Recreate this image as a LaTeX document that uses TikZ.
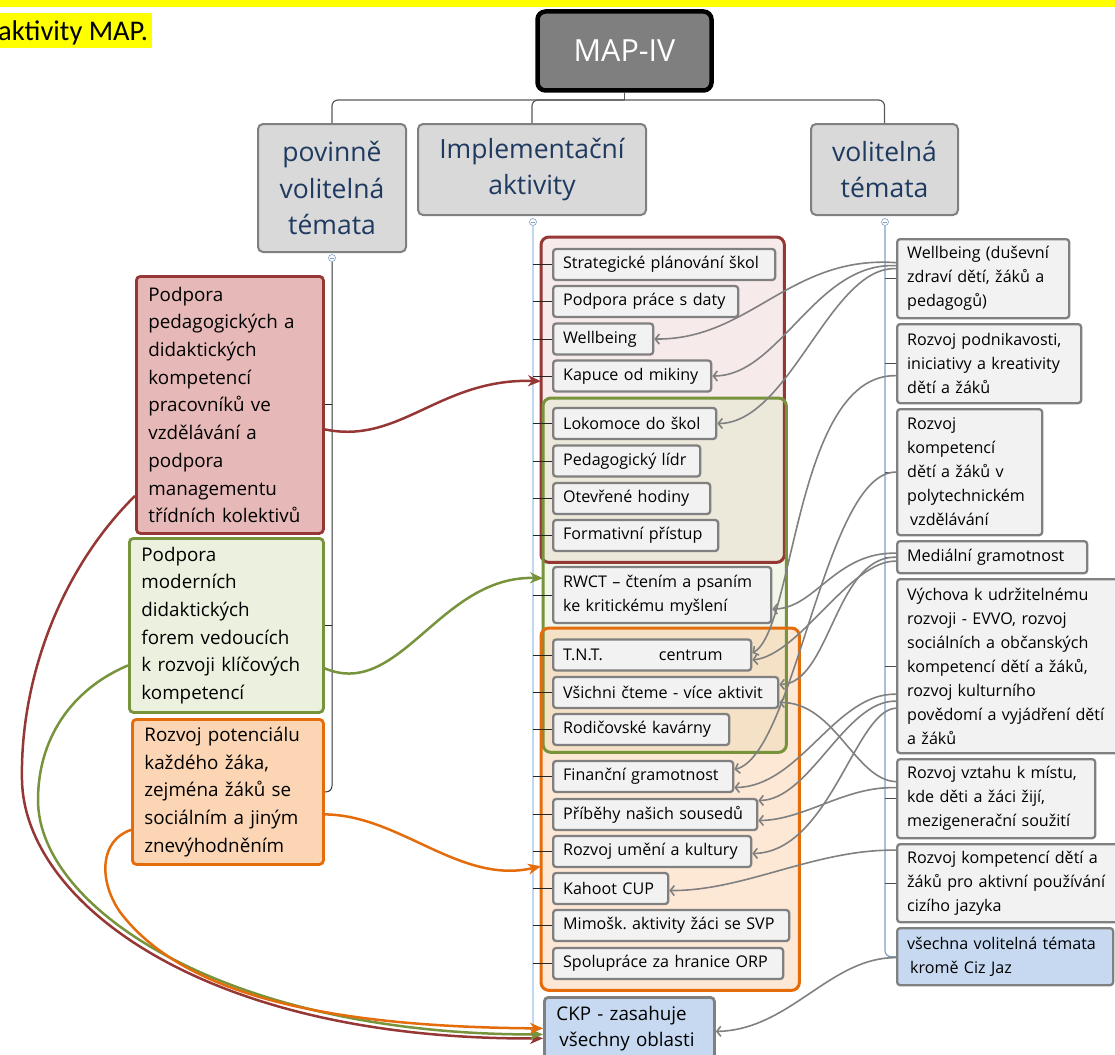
\documentclass[tikz,border=0pt]{standalone}
\usepackage{fontspec}
\setmainfont{Open Sans}
\newfontfamily\carlitofont{Carlito}
\usetikzlibrary{arrows.meta,calc}
\frenchspacing
\definecolor{gbord}{HTML}{808080}
\definecolor{boxfill}{HTML}{F2F2F2}
\definecolor{hdrfill}{HTML}{D9D9D9}
\definecolor{hdrtext}{HTML}{1F3A60}
\definecolor{rootfill}{HTML}{7F7F7F}
\definecolor{redc}{HTML}{953735}
\definecolor{redfill}{HTML}{E6B9B8}
\definecolor{greenc}{HTML}{77933C}
\definecolor{greenfill}{HTML}{EBF1DE}
\definecolor{orangec}{HTML}{E46C0A}
\definecolor{orangefill}{HTML}{FCD5B5}
\definecolor{bluefill}{HTML}{C6D9F1}
\definecolor{spineblue}{HTML}{9DC3E6}
\definecolor{rspine}{HTML}{7F9CC4}
\definecolor{hl}{HTML}{FFFF00}
\definecolor{grpR}{HTML}{E6B9B8}
\definecolor{grpG}{HTML}{D7E4BD}
\definecolor{grpO}{HTML}{FAC090}
\begin{document}
\begin{tikzpicture}[x=1pt,y=-1pt,
  hdr/.style={draw=gbord, fill=hdrfill, line width=2pt, rounded corners=5pt, text=hdrtext,
    font=\fontsize{26.5}{36.5}\selectfont, align=center, inner sep=0pt},
  cbox/.style={draw=gbord, fill=boxfill, line width=2.3pt, rounded corners=3pt, anchor=west,
    font=\fontsize{16.1}{24}\selectfont, align=left, inner xsep=10pt, inner ysep=0pt, minimum height=31pt},
  rbox/.style={cbox, anchor=north west},
  lbox/.style={line width=2.8pt, rounded corners=4pt, anchor=north west,
    font=\fontsize{18.8}{27.7}\selectfont, align=left, inner xsep=12pt, inner ysep=0pt},
  grp/.style={rounded corners=8pt, anchor=north west, inner sep=0pt},
  grpline/.style={rounded corners=8pt, line width=3pt},
  garrow/.style={draw=gbord, line width=1.6pt, -{Straight Barb[length=4pt,width=10pt]}},
  carrow/.style={line width=2.5pt, -{Stealth[length=13pt,width=11pt,inset=4pt]}},
  tree/.style={draw=black!65, line width=1.2pt, rounded corners=6pt},
  stub/.style={draw=black!85, line width=1pt},
  knob/.style={draw=rspine, fill=white, line width=0.6pt, circle, inner sep=0pt, minimum size=7pt}
]
\useasboundingbox (0,0) rectangle (1115,1054);

% highlighted text at the top
\fill[hl] (0,0) rectangle (1115,7);
\fill[hl] (0,13) rectangle (152,48);
\node[anchor=base west, inner sep=0pt, font=\carlitofont\fontsize{28.5}{30}\selectfont] (hltext) at (-2,41) {aktivity MAP.};

% group frames (fills)
\node[grp, fill=grpR, fill opacity=0.3, minimum width=243pt, minimum height=325pt] (gR) at (541,237) {};
\node[grp, fill=grpG, fill opacity=0.35, minimum width=243pt, minimum height=354pt] (gG) at (543,398) {};
\node[grp, fill=grpO, fill opacity=0.38, minimum width=258pt, minimum height=362pt] (gO) at (541,628) {};
\draw[grpline, draw=redc] (gR.north west) rectangle (gR.south east);
\draw[grpline, draw=greenc] (gG.north west) rectangle (gG.south east);
\draw[grpline, draw=orangec] (gO.north west) rectangle (gO.south east);

% root and headers
\node[draw=black, fill=rootfill, line width=4.5pt, rounded corners=8pt, minimum width=174pt, minimum height=79pt,
  text=white, font=\fontsize{30.5}{32}\selectfont, inner sep=0pt] (root) at (624.5,51) {MAP-IV};
\node[hdr, minimum width=148pt, minimum height=128pt] (hP) at (332,188) {povinně\\volitelná\\témata};
\node[hdr, minimum width=228pt, minimum height=91pt] (hI) at (532,169.5) {Implementační\\aktivity};
\node[hdr, minimum width=147pt, minimum height=91pt] (hV) at (884.5,169.5) {volitelná\\témata};

% left boxes
\node[lbox, draw=redc, fill=redfill, text width=163pt, minimum height=257pt] (L1) at (135,275)
 {\mbox{Podpora}\\\mbox{pedagogických a}\\\mbox{didaktických}\\\mbox{kompetencí}\\\mbox{pracovníků ve}\\\mbox{vzdělávání a}\\\mbox{podpora}\\\mbox{managementu}\\\mbox{třídních kolektivů}};
\node[lbox, draw=greenc, fill=greenfill, text width=170pt, minimum height=174pt] (L2) at (128,537)
 {\mbox{Podpora}\\\mbox{moderních}\\\mbox{didaktických}\\\mbox{forem vedoucích}\\\mbox{k rozvoji klíčových}\\\mbox{kompetencí}};
\node[lbox, draw=orangec, fill=orangefill, text width=167pt, minimum height=145pt] (L3) at (131,718)
 {\mbox{Rozvoj potenciálu}\\\mbox{každého žáka,}\\\mbox{zejména žáků se}\\\mbox{sociálním a jiným}\\\mbox{znevýhodněním}};

% centre boxes
\node[cbox, text width=202pt] (c1) at (552,264.5) {\mbox{Strategické plánování škol}};
\node[cbox, text width=165pt] (c2) at (552,301.5) {\mbox{Podpora práce s daty}};
\node[cbox, text width=80pt] (c3) at (552,339) {\mbox{Wellbeing}};
\node[cbox, text width=138pt] (c4) at (552,376) {\mbox{Kapuce od mikiny}};
\node[cbox, text width=143pt] (c5) at (552,423.5) {\mbox{Lokomoce do škol}};
\node[cbox, text width=127pt] (c6) at (552,461) {\mbox{Pedagogický lídr}};
\node[cbox, text width=137pt] (c7) at (552,498.5) {\mbox{Otevřené hodiny}};
\node[cbox, text width=145pt] (c8) at (552,535.5) {\mbox{Formativní přístup}};
\node[cbox, text width=198pt, minimum height=56pt] (c9) at (552,595) {\mbox{RWCT – čtením a psaním}\\\mbox{ke kritickému myšlení}};
\node[cbox, text width=178pt] (c10) at (552,655) {\mbox{T.N.T.\hspace{56pt}centrum}};
\node[cbox, text width=205pt] (c11) at (552,692.5) {\mbox{Všichni čteme - více aktivit}};
\node[cbox, text width=156pt] (c12) at (552,729.5) {\mbox{Rodičovské kavárny}};
\node[cbox, text width=160pt] (c13) at (552,776.5) {\mbox{Finanční gramotnost}};
\node[cbox, text width=184pt] (c14) at (552,814.5) {\mbox{Příběhy našich sousedů}};
\node[cbox, text width=178pt] (c15) at (552,851.5) {\mbox{Rozvoj umění a kultury}};
\node[cbox, text width=95pt] (c16) at (552,888.5) {\mbox{Kahoot CUP}};
\node[cbox, text width=216pt] (c17) at (552,925.5) {\mbox{Mimošk. aktivity žáci se SVP}};
\node[cbox, text width=210pt] (c18) at (552,963.5) {\mbox{Spolupráce za hranice ORP}};
\node[lbox, draw=gbord, fill=bluefill, text width=146pt, minimum height=62pt, font=\fontsize{18.8}{26}\selectfont] (ckp) at (543,996)
 {\mbox{CKP - zasahuje}\\\mbox{\hspace{3pt}všechny oblasti}};

% right boxes
\node[rbox, text width=152pt, minimum height=79pt] (R1) at (896,238) {\mbox{Wellbeing (duševní}\\\mbox{zdraví dětí, žáků a}\\\mbox{pedagogů)}};
\node[rbox, text width=164pt, minimum height=79pt] (R2) at (896,323) {\mbox{Rozvoj podnikavosti,}\\\mbox{iniciativy a kreativity}\\\mbox{dětí a žáků}};
\node[rbox, text width=125pt, minimum height=126pt] (R3) at (896,408) {\mbox{Rozvoj}\\\mbox{kompetencí}\\\mbox{dětí a žáků v}\\\mbox{polytechnickém}\\\mbox{\hspace{3pt}vzdělávání}};
\node[rbox, text width=170pt, minimum height=32pt] (R4) at (896,540) {\mbox{Mediální gramotnost}};
\node[rbox, text width=220pt, minimum height=174pt] (R5) at (896,578) {\mbox{Výchova k udržitelnému}\\\mbox{rozvoji - EVVO, rozvoj}\\\mbox{sociálních a občanských}\\\mbox{kompetencí dětí a žáků,}\\\mbox{rozvoj kulturního}\\\mbox{povědomí a vyjádření dětí}\\\mbox{a žáků}};
\node[rbox, text width=178pt, minimum height=79pt] (R6) at (896,758) {\mbox{Rozvoj vztahu k místu,}\\\mbox{kde děti a žáci žijí,}\\\mbox{mezigenerační soužití}};
\node[rbox, text width=220pt, minimum height=78pt] (R7) at (896,843) {\mbox{Rozvoj kompetencí dětí a}\\\mbox{žáků pro aktivní používání}\\\mbox{cizího jazyka}};
\node[rbox, fill=bluefill, text width=196pt, minimum height=57pt] (R8) at (896,927) {\mbox{všechna volitelná témata}\\\mbox{\hspace{3pt}kromě Ciz Jaz}};

% tree lines at the top
\coordinate (bar) at (625,100);
\draw[tree] (hP.north) -- (hP.north |- bar) -- (hV.north |- bar) -- (hV.north);
\draw[tree] (hI.north) -- (hI.north |- bar) -- (root.south |- bar);
\draw[draw=black!65, line width=1.2pt] (root.south) -- (root.south |- bar);

% left spine
\coordinate (lsp) at (332,262);
\draw[tree, draw=black!80, line width=1pt] (lsp) -- (lsp |- L3.east) -- (L3.east);
\draw[stub] (lsp |- L1.east) -- (L1.east);
\draw[stub] (lsp |- L2.east) -- (L2.east);
% centre spine
\coordinate (csp) at (533,226);
\draw[draw=spineblue, line width=1.2pt, rounded corners=6pt] (csp) -- (csp |- ckp.west) -- (ckp.west);
\foreach \n in {c1,c2,c3,c4,c5,c6,c7,c8,c9,c10,c11,c12,c13,c14,c15,c16,c17,c18}
  \draw[stub] (csp |- \n.west) -- (\n.west);
% right spine
\coordinate (rsp) at (885,226);
\draw[draw=rspine, line width=1.2pt, rounded corners=6pt] (rsp) -- (rsp |- R8.west) -- (R8.west);
\foreach \n in {R1,R2,R3,R4,R5,R6,R7}
  \draw[stub, draw=black!70] (rsp |- \n.west) -- (\n.west);

% collapse knobs
\node[knob] (k1) at (332,258) {};
\node[knob] (k2) at (533,222) {};
\node[knob] (k3) at (885,222) {};
\foreach \k in {k1,k2,k3} \draw[rspine, line width=0.6pt] ([xshift=-2pt]\k.center) -- ([xshift=2pt]\k.center);

% grey arrows from the optional topics
\draw[garrow] ($(R1.west)+(0,-16)$) .. controls (790,255) and (750,340) .. (c3.east);
\draw[garrow] ($(R1.west)+(0,-13)$) .. controls (815,262) and (780,376) .. (c4.east);
\draw[garrow] ($(R1.west)+(0,-10)$) .. controls (830,266) and (790,423) .. (c5.east);
\draw[garrow] ($(R2.west)+(0,12)$) .. controls (795,374) and (795,630) .. ($(c10.east)+(0,-2)$);
\draw[garrow] ($(R3.west)+(0,0)$) .. controls (825,471) and (795,755) .. ($(c13.east)+(0,-7)$);
\draw[garrow] ($(R4.west)+(0,-4)$) .. controls (835,552) and (815,609) .. ($(c9.east)+(0,14)$);
\draw[garrow] ($(R4.west)+(0,0)$) .. controls (835,556) and (830,684) .. ($(c11.east)+(0,-8)$);
\draw[garrow] ($(R4.west)+(0,4)$) .. controls (850,560) and (800,655) .. ($(c10.east)+(0,5)$);
\draw[garrow] ($(R5.west)+(0,28)$) .. controls (835,693) and (800,787) .. ($(c13.east)+(0,11)$);
\draw[garrow] ($(R5.west)+(0,35)$) .. controls (845,700) and (810,800) .. ($(c14.east)+(0,-14)$);
\draw[garrow] ($(R5.west)+(0,42)$) .. controls (855,710) and (830,852) .. ($(c15.east)+(0,2)$);
\draw[garrow] ($(R6.west)+(0,-17)$) .. controls (855,780) and (835,702) .. ($(c11.east)+(0,10)$);
\draw[garrow] ($(R6.west)+(0,-11)$) .. controls (845,786) and (805,820) .. ($(c14.east)+(0,6)$);
\draw[garrow] ($(R7.west)+(0,-33)$) .. controls (815,849) and (745,891) .. ($(c16.east)+(0,2)$);
\draw[garrow] ($(R8.west)+(0,1)$) .. controls (830,957) and (790,1030) .. ($(ckp.east)+(0,3)$);

% coloured arrows from the mandatory topics
\draw[carrow, draw=redc] ($(L1.east)+(0,24.5)$) .. controls (400,445) and (440,378) .. ($(gR.west)+(0,-18.5)$);
\draw[carrow, draw=greenc] ($(L2.east)+(0,43)$) .. controls (400,700) and (440,575) .. ($(gG.west)+(0,3)$);
\draw[carrow, draw=orangec] ($(L3.east)+(0,22.5)$) .. controls (400,815) and (460,885) .. ($(gO.west)+(0,57)$);
\draw[carrow, draw=redc] ($(L1.west)+(0,91)$) .. controls (60,570) and (20,680) .. (22,780)
   .. controls (24,900) and (200,1040) .. ($(ckp.west)+(0,10)$);
\draw[carrow, draw=greenc] ($(L2.west)+(0,40)$) .. controls (70,690) and (38,740) .. (38,800)
   .. controls (38,910) and (230,1035) .. ($(ckp.west)+(0,6)$);
\draw[carrow, draw=orangec] ($(L3.west)+(0,38)$) .. controls (100,840) and (98,880) .. (120,912)
   .. controls (190,1005) and (360,1027) .. ($(ckp.west)+(0,0)$);
\end{tikzpicture}
\end{document}
